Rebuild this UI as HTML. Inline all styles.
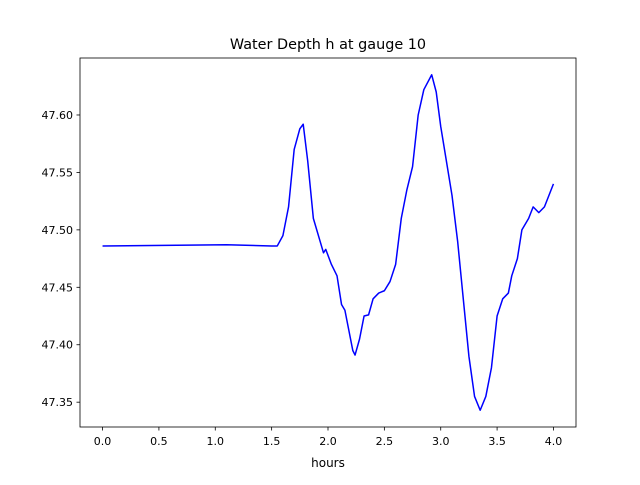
<!DOCTYPE html>
<html><head><meta charset="utf-8"><style>
body{margin:0;background:#fff;font-family:"Liberation Sans","DejaVu Sans",sans-serif;}
svg text{font-family:"DejaVu Sans","Liberation Sans",sans-serif;}
</style></head><body>
<svg id="chart" width="640" height="480" xmlns="http://www.w3.org/2000/svg">
<rect width="640" height="480" fill="#fff"/>
<text x="328" y="49" font-size="14.4" text-anchor="middle">Water Depth h at gauge 10</text>
<g id="axes"></g>
<path id="line" fill="none" stroke="#0000ff" stroke-width="1.5" stroke-linejoin="round"/>
<rect x="80" y="58" width="496" height="369" fill="none" stroke="#000" stroke-width="0.8"/>
<text x="328" y="467" font-size="12" text-anchor="middle">hours</text>
</svg>
<script>
const hours=[0,1.1,1.5,1.55,1.6,1.65,1.7,1.75,1.78,1.82,1.87,1.93,1.96,1.98,2.03,2.08,2.12,2.15,2.18,2.22,2.24,2.28,2.32,2.36,2.4,2.45,2.5,2.55,2.6,2.65,2.7,2.75,2.8,2.85,2.92,2.96,3.0,3.05,3.1,3.15,3.2,3.25,3.3,3.35,3.4,3.45,3.5,3.55,3.6,3.63,3.68,3.72,3.78,3.82,3.87,3.92,3.96,4.0];
const depth=[47.486,47.487,47.486,47.486,47.495,47.52,47.57,47.588,47.592,47.56,47.51,47.49,47.48,47.483,47.47,47.46,47.435,47.43,47.415,47.395,47.391,47.405,47.425,47.426,47.44,47.445,47.447,47.455,47.47,47.51,47.535,47.555,47.6,47.622,47.635,47.62,47.59,47.56,47.53,47.49,47.44,47.39,47.355,47.343,47.355,47.38,47.425,47.44,47.445,47.46,47.475,47.5,47.51,47.52,47.515,47.52,47.53,47.54];
const xTicks=[0,0.5,1,1.5,2,2.5,3,3.5,4];
const xTickLabels=["0.0","0.5","1.0","1.5","2.0","2.5","3.0","3.5","4.0"];
const yTicks=[47.35,47.40,47.45,47.50,47.55,47.60];
const yTickLabels=["47.35","47.40","47.45","47.50","47.55","47.60"];
const L=80,R=576,T=58,B=427;
const xmin=-0.2,xmax=4.2;
const dmin=Math.min(...depth),dmax=Math.max(...depth),pad=(dmax-dmin)*0.05;
const ymin=dmin-pad,ymax=dmax+pad;
const sx=v=>L+(v-xmin)/(xmax-xmin)*(R-L);
const sy=v=>B-(v-ymin)/(ymax-ymin)*(B-T);
const NS="http://www.w3.org/2000/svg";
const ax=document.getElementById('axes');
function mk(tag,attrs,txt){const e=document.createElementNS(NS,tag);for(const k in attrs)e.setAttribute(k,attrs[k]);if(txt!==undefined)e.textContent=txt;ax.appendChild(e);return e;}
xTicks.forEach((t,i)=>{const x=sx(t);
const l=mk('line',{x1:x,x2:x,y1:B,y2:B+3.5,stroke:'#000','stroke-width':0.8});


const tx=mk('text',{x:x,y:B+18,'font-size':11,'text-anchor':'middle'},xTickLabels[i]);


});
yTicks.forEach((t,i)=>{const y=sy(t);
const l=mk('line',{x1:L-3.5,x2:L,y1:y,y2:y,stroke:'#000','stroke-width':0.8});


const tx=mk('text',{x:L-7,y:y+4,'font-size':11,'text-anchor':'end'},yTickLabels[i]);


});
document.getElementById('line').setAttribute('d',hours.map((h,i)=>(i?'L':'M')+sx(h).toFixed(2)+' '+sy(depth[i]).toFixed(2)).join(' '));
</script>
</body></html>
